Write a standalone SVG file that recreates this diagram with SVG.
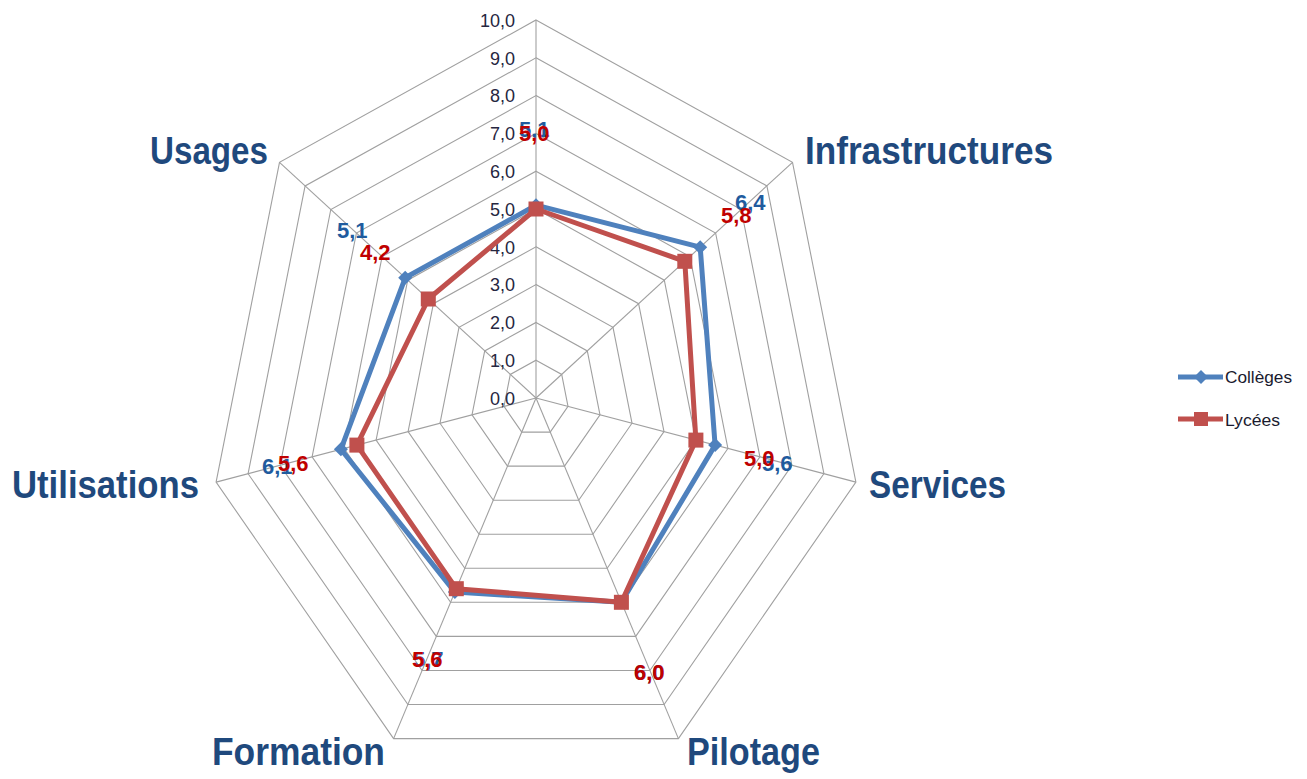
<svg xmlns="http://www.w3.org/2000/svg" width="1307" height="779" viewBox="0 0 1307 779">
<style>
.ring{fill:none;stroke:#a0a0a0;stroke-width:1.1}
.spoke{stroke:#a0a0a0;stroke-width:1.1}
.tick{font-family:"Liberation Sans",Arial,sans-serif;font-size:18px;fill:#26263f;text-anchor:end}
.cat{font-family:"Liberation Sans",Arial,sans-serif;font-size:38px;font-weight:bold;fill:#1F497D}
.lb{font-family:"Liberation Sans",Arial,sans-serif;font-size:22px;font-weight:bold;fill:#1F5B9E}
.lr{font-family:"Liberation Sans",Arial,sans-serif;font-size:22px;font-weight:bold;fill:#C00000}
.leg{font-family:"Liberation Sans",Arial,sans-serif;font-size:17px;fill:#1a1a2e}
.sb{fill:none;stroke:#4F81BD;stroke-width:5;stroke-linejoin:round}
.sr{fill:none;stroke:#C0504D;stroke-width:5;stroke-linejoin:round}
</style>
<defs>
<marker id="dia" viewBox="-8 -8 16 16" markerWidth="16" markerHeight="16" markerUnits="userSpaceOnUse" refX="0" refY="0">
<polygon points="0,-7 7,0 0,7 -7,0" fill="#4F81BD"/>
</marker>
<marker id="sq" viewBox="-8 -8 16 16" markerWidth="16" markerHeight="16" markerUnits="userSpaceOnUse" refX="0" refY="0">
<rect x="-7.5" y="-7.5" width="15" height="15" fill="#C0504D"/>
</marker>
</defs>
<rect width="1307" height="779" fill="#ffffff"/>
<g id="grid">
<polygon class="ring" points="536,360.2 561.7,374.4 568.0,406.4 550.2,432.1 521.8,432.1 504.0,406.4 510.3,374.4"/>
<polygon class="ring" points="536,322.4 587.3,350.9 600.0,414.8 564.5,466.1 507.5,466.1 472.0,414.8 484.7,350.9"/>
<polygon class="ring" points="536,284.6 613.0,327.3 632.0,423.2 578.7,500.2 493.3,500.2 440.0,423.2 459.0,327.3"/>
<polygon class="ring" points="536,246.8 638.6,303.7 664.0,431.6 592.9,534.2 479.1,534.2 408.1,431.6 433.4,303.7"/>
<polygon class="ring" points="536,209 664.3,280.2 695.9,440.1 607.2,568.3 464.8,568.3 376.1,440.1 407.7,280.2"/>
<polygon class="ring" points="536,171.2 689.9,256.6 727.9,448.5 621.4,602.3 450.6,602.3 344.1,448.5 382.1,256.6"/>
<polygon class="ring" points="536,133.4 715.6,233.0 759.9,456.9 635.7,636.4 436.3,636.4 312.1,456.9 356.4,233.0"/>
<polygon class="ring" points="536,95.6 741.2,209.5 791.9,465.3 649.9,670.5 422.1,670.5 280.1,465.3 330.8,209.5"/>
<polygon class="ring" points="536,57.8 766.9,185.9 823.9,473.7 664.1,704.5 407.9,704.5 248.1,473.7 305.1,185.9"/>
<polygon class="ring" points="536,20 792.5,162.3 855.9,482.1 678.4,738.6 393.6,738.6 216.1,482.1 279.5,162.3"/>
<line class="spoke" x1="536" y1="398" x2="536" y2="20"/>
<line class="spoke" x1="536" y1="398" x2="792.5" y2="162.3"/>
<line class="spoke" x1="536" y1="398" x2="855.9" y2="482.1"/>
<line class="spoke" x1="536" y1="398" x2="678.4" y2="738.6"/>
<line class="spoke" x1="536" y1="398" x2="393.6" y2="738.6"/>
<line class="spoke" x1="536" y1="398" x2="216.1" y2="482.1"/>
<line class="spoke" x1="536" y1="398" x2="279.5" y2="162.3"/>
</g>
<g id="axis-labels">
<text class="tick" x="515" y="27">10,0</text>
<text class="tick" x="515" y="65">9,0</text>
<text class="tick" x="515" y="102">8,0</text>
<text class="tick" x="515" y="140">7,0</text>
<text class="tick" x="515" y="178">6,0</text>
<text class="tick" x="515" y="216">5,0</text>
<text class="tick" x="515" y="254">4,0</text>
<text class="tick" x="515" y="291">3,0</text>
<text class="tick" x="515" y="329">2,0</text>
<text class="tick" x="515" y="367">1,0</text>
<text class="tick" x="515" y="405">0,0</text>
</g>
<g id="categories">
<text class="cat" x="150" y="164" textLength="118" lengthAdjust="spacingAndGlyphs">Usages</text>
<text class="cat" x="805" y="164" textLength="248" lengthAdjust="spacingAndGlyphs">Infrastructures</text>
<text class="cat" x="869" y="498" textLength="137" lengthAdjust="spacingAndGlyphs">Services</text>
<text class="cat" x="12" y="498" textLength="187" lengthAdjust="spacingAndGlyphs">Utilisations</text>
<text class="cat" x="212" y="765" textLength="173" lengthAdjust="spacingAndGlyphs">Formation</text>
<text class="cat" x="687" y="765" textLength="133" lengthAdjust="spacingAndGlyphs">Pilotage</text>
</g>
<g id="connectors">
<polygon id="series-colleges" class="sb" points="536,205.2 700.2,247.2 715.1,445.1 621.4,602.3 454.9,592.1 340.9,449.3 405.2,277.8" marker-start="url(#dia)" marker-mid="url(#dia)"/>
<polygon id="series-lycees" class="sr" points="536,209 684.8,261.3 695.9,440.1 621.4,602.3 456.3,588.7 356.9,445.1 428.3,299.0" marker-start="url(#sq)" marker-mid="url(#sq)"/>
</g>
<g id="data-labels">
<text class="lb" x="519" y="137">5,1</text>
<text class="lr" x="519" y="141">5,0</text>
<text class="lb" x="735" y="210">6,4</text>
<text class="lr" x="721" y="223">5,8</text>
<text class="lb" x="762" y="471">5,6</text>
<text class="lr" x="744" y="466">5,0</text>
<text class="lb" x="634" y="680">6,0</text>
<text class="lr" x="634" y="680">6,0</text>
<text class="lb" x="413" y="667">5,7</text>
<text class="lr" x="412" y="667">5,6</text>
<text class="lb" x="262" y="474">6,1</text>
<text class="lr" x="278" y="471">5,6</text>
<text class="lb" x="337" y="238">5,1</text>
<text class="lr" x="360" y="260">4,2</text>
</g>
<g id="legend">
<line x1="1178" y1="377" x2="1223" y2="377" stroke="#4F81BD" stroke-width="5"/>
<polygon points="1201,370 1208,377 1201,384 1194,377" fill="#4F81BD"/>
<text class="leg" x="1225" y="383" textLength="67" lengthAdjust="spacingAndGlyphs">Collèges</text>
<line x1="1178" y1="419" x2="1223" y2="419" stroke="#C0504D" stroke-width="5"/>
<rect x="1194" y="412" width="14" height="14" fill="#C0504D"/>
<text class="leg" x="1225" y="426" textLength="55" lengthAdjust="spacingAndGlyphs">Lycées</text>
</g>
</svg>
